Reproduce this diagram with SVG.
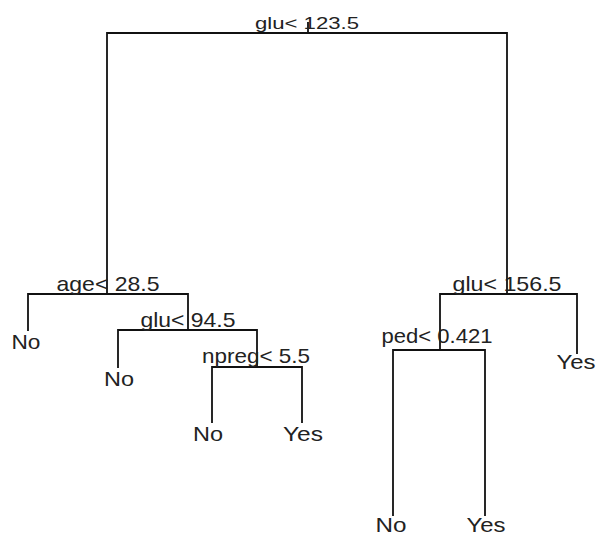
<svg xmlns="http://www.w3.org/2000/svg" width="596" height="537" viewBox="0 0 596 537">
<style>
.e{fill:none;stroke:#111;stroke-width:1.8;stroke-linecap:square}
text{font-family:"Liberation Sans",Arial,sans-serif;font-size:21px;fill:#222;text-anchor:middle}
.r{font-size:17px}
</style>
<rect width="596" height="537" fill="#fff"/>
<g id="connectors">
<path class="e" d="M308 23V33M107 294V33H507V294"/>
<path class="e" d="M28 330V294H188V330"/>
<path class="e" d="M118 367V330H257V367"/>
<path class="e" d="M212 422V367H302V422"/>
<path class="e" d="M440 350V294H577V353"/>
<path class="e" d="M393 515V350H485V515"/>
</g>
<g id="n_root"><text class="r" x="307" y="29" textLength="104" lengthAdjust="spacingAndGlyphs">glu&lt; 123.5</text></g>
<g id="n_age"><text x="108" y="291" textLength="103" lengthAdjust="spacingAndGlyphs">age&lt; 28.5</text></g>
<g id="n_glu94"><text x="188" y="327" textLength="95" lengthAdjust="spacingAndGlyphs">glu&lt; 94.5</text></g>
<g id="n_npreg"><text x="256" y="363" textLength="108" lengthAdjust="spacingAndGlyphs">npreg&lt; 5.5</text></g>
<g id="n_glu156"><text x="507" y="291" textLength="109" lengthAdjust="spacingAndGlyphs">glu&lt; 156.5</text></g>
<g id="n_ped"><text x="437" y="343" textLength="111" lengthAdjust="spacingAndGlyphs">ped&lt; 0.421</text></g>
<g id="l1"><text x="26" y="349" textLength="29" lengthAdjust="spacingAndGlyphs">No</text></g>
<g id="l2"><text x="119" y="386" textLength="30" lengthAdjust="spacingAndGlyphs">No</text></g>
<g id="l3"><text x="208" y="441" textLength="30" lengthAdjust="spacingAndGlyphs">No</text></g>
<g id="l4"><text x="303" y="441" textLength="40" lengthAdjust="spacingAndGlyphs">Yes</text></g>
<g id="l5"><text x="576" y="369" textLength="39" lengthAdjust="spacingAndGlyphs">Yes</text></g>
<g id="l6"><text x="391" y="532" textLength="31" lengthAdjust="spacingAndGlyphs">No</text></g>
<g id="l7"><text x="486" y="532" textLength="39" lengthAdjust="spacingAndGlyphs">Yes</text></g>
</svg>
